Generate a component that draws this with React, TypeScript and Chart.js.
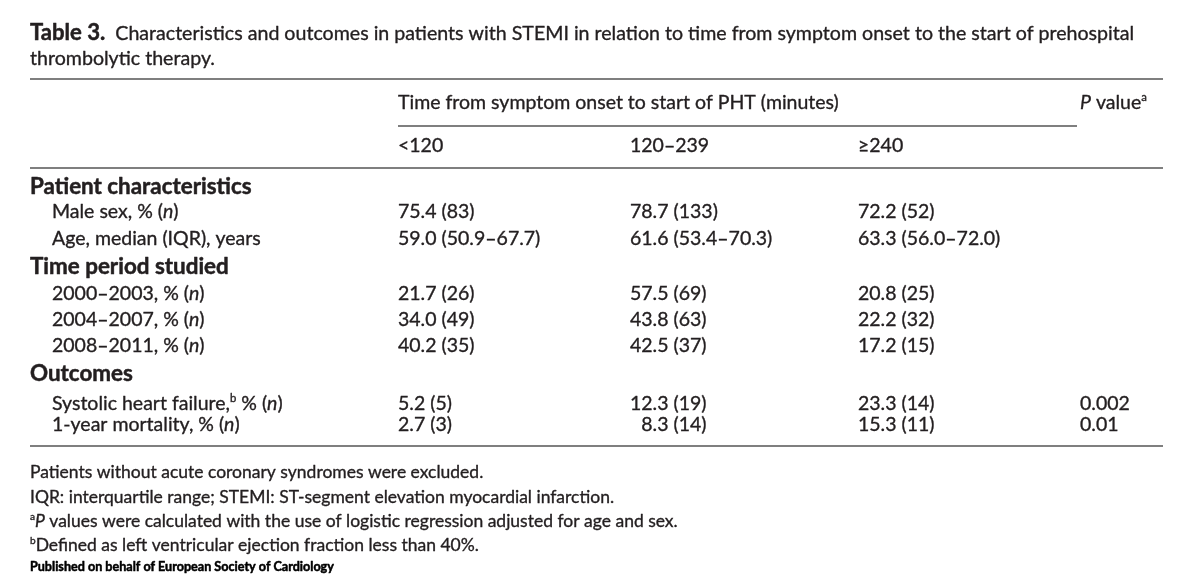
import React, { useEffect, useRef } from "react";
import { Chart, registerables } from "chart.js";

Chart.register(...registerables);

// ---------- DATA ----------
const titleLines = [
  "*Table 3.*  Characteristics and outcomes in patients with STEMI in relation to time from symptom onset to the start of prehospital",
  "thrombolytic therapy.",
];
const spanHeader = "Time from symptom onset to start of PHT (minutes)";
const pHeader = "_P_ value^a^";
const groupHeaders = ["<120", "120–239", "≥240"];
const sectionTitles = ["Patient characteristics", "Time period studied", "Outcomes"];
const rowLabels = [
  "Male sex, % (_n_)",
  "Age, median (IQR), years",
  "2000–2003, % (_n_)",
  "2004–2007, % (_n_)",
  "2008–2011, % (_n_)",
  "Systolic heart failure,^b^ % (_n_)",
  "1-year mortality, % (_n_)",
];
const rowSection = [0, 0, 1, 1, 1, 2, 2];
const colUnder120 = ["75.4 (83)", "59.0 (50.9–67.7)", "21.7 (26)", "34.0 (49)", "40.2 (35)", "5.2 (5)", "2.7 (3)"];
const col120to239 = ["78.7 (133)", "61.6 (53.4–70.3)", "57.5 (69)", "43.8 (63)", "42.5 (37)", "12.3 (19)", "8.3 (14)"];
const col240plus = ["72.2 (52)", "63.3 (56.0–72.0)", "20.8 (25)", "22.2 (32)", "17.2 (15)", "23.3 (14)", "15.3 (11)"];
const pValues = ["", "", "", "", "", "0.002", "0.01"];
const footnotes = [
  "Patients without acute coronary syndromes were excluded.",
  "IQR: interquartile range; STEMI: ST-segment elevation myocardial infarction.",
  "^a^_P_ values were calculated with the use of logistic regression adjusted for age and sex.",
  "^b^Defined as left ventricular ejection fraction less than 40%.",
];
const publisher = "Published on behalf of European Society of Cardiology";

// ---------- LAYOUT ----------
const FAMILY = "Lato, 'Noto Sans', sans-serif";
const TEXT = "#231f20";
const RULE = "#555555";
const L = {
  left: 30,
  right: 1163,
  indent: 52,
  colX: [398, 630, 858],
  pX: 1080,
  spanEnd: 1077,
  titleY: [33, 58],
  rules: [79, 168, 446],
  midRule: 126,
  spanY: 102,
  groupY: 145,
  sectionY: [187, 267, 374],
  rowY: [211, 238, 293, 319, 345, 403, 424],
  footY: [472, 497, 521, 545],
  pubY: 566,
  body: 19.5,
  title: 19.6,
  foot: 17.5,
  pub: 12.6,
  boldScale: 1.13,
};

type Run = { text: string; bold: boolean; italic: boolean; sup: boolean };

function parse(s: string, baseBold = false): Run[] {
  const runs: Run[] = [];
  let bold = baseBold, italic = false, sup = false, buf = "";
  const push = () => {
    if (buf) runs.push({ text: buf, bold, italic, sup });
    buf = "";
  };
  for (const ch of s) {
    if (ch === "*") { push(); bold = !bold; }
    else if (ch === "_") { push(); italic = !italic; }
    else if (ch === "^") { push(); sup = !sup; }
    else buf += ch;
  }
  push();
  return runs;
}

function fontFor(r: Run, size: number, boldScale: number) {
  let sz = r.sup ? size * 0.58 : size;
  if (r.bold) sz *= boldScale;
  sz = Math.round(sz * 10) / 10;
  return `${r.italic ? "italic " : "normal "}${r.bold ? "700" : "400"} ${sz}px ${FAMILY}`;
}

function richWidth(ctx: CanvasRenderingContext2D, s: string, size: number, bold = false, boldScale = L.boldScale) {
  let w = 0;
  for (const r of parse(s, bold)) {
    ctx.font = fontFor(r, size, boldScale);
    w += ctx.measureText(r.text).width;
  }
  return w;
}

function drawRich(
  ctx: CanvasRenderingContext2D,
  s: string,
  x: number,
  yCenter: number,
  size: number,
  opts: { bold?: boolean; align?: "left" | "right"; color?: string; boldScale?: number; stroke?: number } = {}
) {
  const bs = opts.boldScale ?? L.boldScale;
  const runs = parse(s, !!opts.bold);
  let cx = x;
  if (opts.align === "right") cx = x - richWidth(ctx, s, size, !!opts.bold, bs);
  const baseline = yCenter + size * 0.36;
  ctx.textAlign = "left";
  ctx.textBaseline = "alphabetic";
  const col = opts.color || TEXT;
  ctx.fillStyle = col;
  ctx.strokeStyle = col;
  ctx.lineJoin = "round";
  for (const r of runs) {
    ctx.font = fontFor(r, size, bs);
    const y = r.sup ? baseline - size * 0.4 : baseline;
    ctx.fillText(r.text, cx, y);
    const sw = r.bold ? 0.5 : opts.stroke ?? 0.35;
    if (sw > 0) {
      ctx.lineWidth = sw;
      ctx.strokeText(r.text, cx, y);
    }
    cx += ctx.measureText(r.text).width;
  }
}

const tablePlugin = {
  id: "tablePlugin",
  afterDraw(chart: any) {
    const ctx: CanvasRenderingContext2D = chart.ctx;
    const xs = chart.scales.x;
    const ys = chart.scales.y;
    const X = (v: number) => xs.getPixelForValue(v);
    const Y = (v: number) => ys.getPixelForValue(v);
    ctx.save();

    // title
    titleLines.forEach((t, i) => drawRich(ctx, t, X(L.left), Y(L.titleY[i]), L.title));

    // rules
    ctx.strokeStyle = RULE;
    ctx.lineWidth = 1.7;
    const hline = (x0: number, x1: number, y: number) => {
      ctx.beginPath();
      ctx.moveTo(X(x0), Y(y));
      ctx.lineTo(X(x1), Y(y));
      ctx.stroke();
    };
    L.rules.forEach((y) => hline(L.left, L.right, y));
    hline(L.colX[0], L.spanEnd, L.midRule);

    // headers
    drawRich(ctx, spanHeader, X(L.colX[0]), Y(L.spanY), L.body);
    drawRich(ctx, pHeader, X(L.pX), Y(L.spanY), L.body);
    groupHeaders.forEach((g, i) => drawRich(ctx, g, X(L.colX[i]), Y(L.groupY), L.body));

    // sections
    sectionTitles.forEach((s, i) => drawRich(ctx, s, X(L.left), Y(L.sectionY[i]), L.body, { bold: true, boldScale: 1.15 }));

    // rows
    const cols = [colUnder120, col120to239, col240plus];
    rowLabels.forEach((lab, r) => {
      const y = Y(L.rowY[r]);
      drawRich(ctx, lab, X(L.indent), y, L.body);
      cols.forEach((col, c) => {
        if (rowSection[r] === 2) {
          const outRows = col.filter((_, k) => rowSection[k] === 2);
          const maxW = Math.max(...outRows.map((v) => richWidth(ctx, v, L.body)));
          drawRich(ctx, col[r], X(L.colX[c]) + maxW, y, L.body, { align: "right" });
        } else {
          drawRich(ctx, col[r], X(L.colX[c]), y, L.body);
        }
      });
      if (pValues[r]) drawRich(ctx, pValues[r], X(L.pX), y, L.body);
    });

    // footnotes
    footnotes.forEach((f, i) => drawRich(ctx, f, X(L.left), Y(L.footY[i]), L.foot));
    drawRich(ctx, publisher, X(L.left), Y(L.pubY), L.pub, { bold: true, boldScale: 1, color: "#000" });

    ctx.restore();
  },
};

export default function App() {
  const ref = useRef<HTMLCanvasElement | null>(null);
  useEffect(() => {
    document.body.style.margin = "0";
    document.body.style.background = "#fff";
    const canvas = ref.current;
    if (!canvas) return;
    const chart = new Chart(canvas, {
      type: "scatter",
      data: { datasets: [] },
      options: {
        animation: false,
        responsive: false,
        devicePixelRatio: 1,
        layout: { padding: 0 },
        plugins: { legend: { display: false }, tooltip: { enabled: false }, title: { display: false } },
        scales: {
          x: { type: "linear", min: 0, max: 1200, display: false },
          y: { type: "linear", min: 0, max: 576, reverse: true, display: false },
        },
      },
      plugins: [tablePlugin],
    });
    return () => chart.destroy();
  }, []);
  return (
    <div style={{ width: 1200, height: 576, background: "#fff" }}>
      <canvas ref={ref} width={1200} height={576} style={{ display: "block" }} />
    </div>
  );
}
